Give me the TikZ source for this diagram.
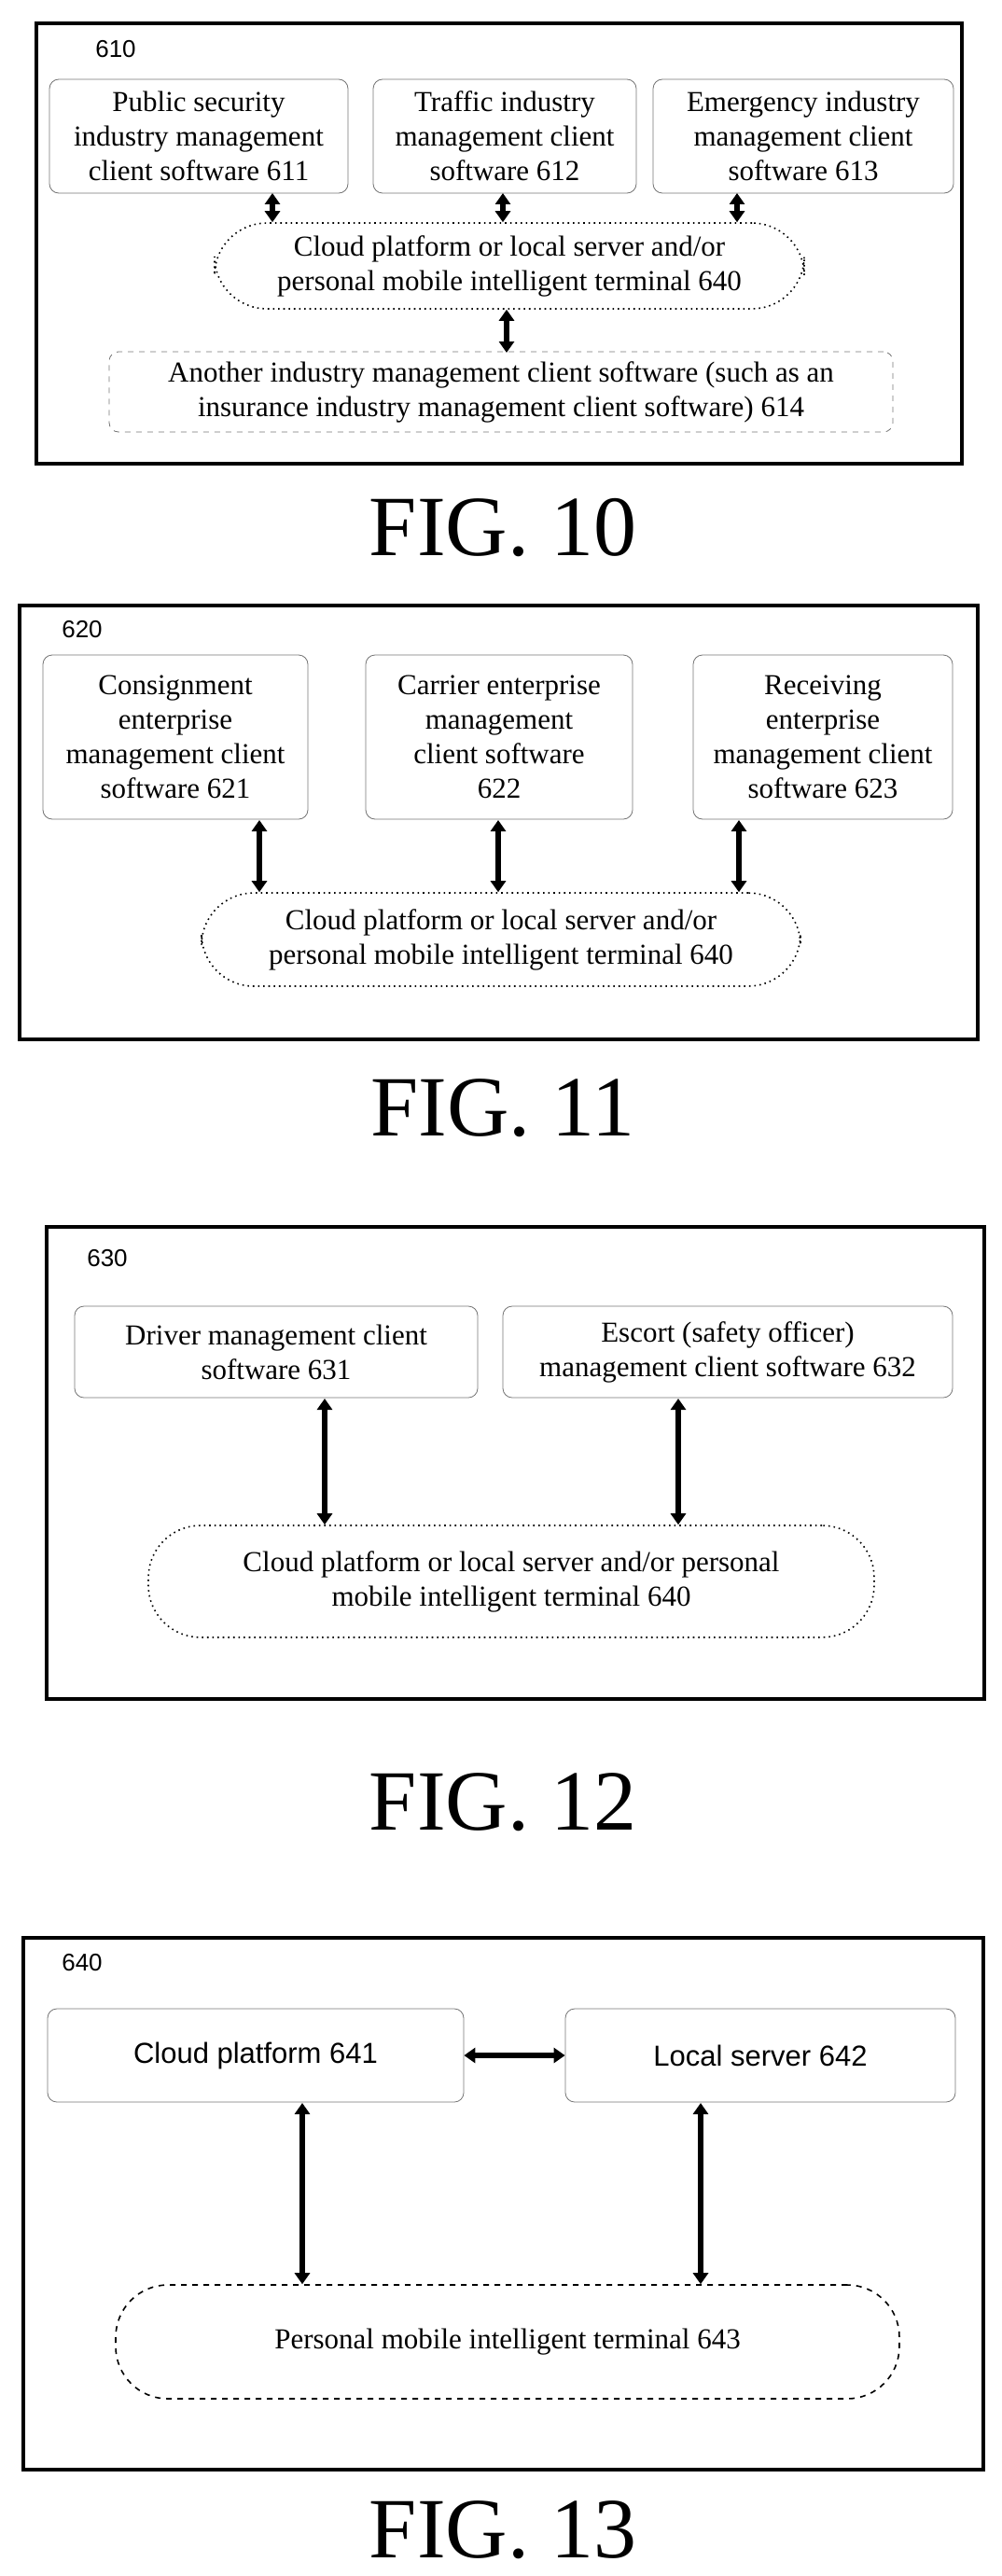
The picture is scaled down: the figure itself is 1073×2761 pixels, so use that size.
\documentclass[tikz,border=0pt]{standalone}
\usepackage{fontspec}
\setmainfont{Liberation Serif}
\newfontfamily\labelfont{Liberation Sans}
\usetikzlibrary{arrows.meta}
\tikzset{
  frame/.style = {draw, line width = 1.6pt},
  soft/.style = {draw = black!55, line width = 0.4pt, rounded corners = 5pt,
    align = center, inner sep = 2pt, font = \fontsize{15.5}{18.5}\selectfont},
  cloud/.style = {draw, dotted, line width = 0.8pt, rounded corners = 28pt,
    align = center, font = \fontsize{15.5}{18.5}\selectfont},
  link/.style = {{Triangle[width=8pt,length=6pt]}-{Triangle[width=8pt,length=6pt]},
    line width = 2.8pt},
  caption/.style = {font = \fontsize{46}{50}\selectfont},
  tag/.style = {font = \labelfont\fontsize{13}{15}\selectfont}
}
\begin{document}
\begin{tikzpicture}[x=0.5pt, y=-0.5pt]
  \useasboundingbox (0, 0) rectangle (1073, 2761);

  % fig. 10
  % -------
  \draw [frame] (39, 25) rectangle (1031, 497);
  \node [tag] (t610) at (124, 53) {610};
  \node [soft, minimum width = 160pt, minimum height = 61pt] (b611) at (213, 146)
    {Public security\\industry management\\client software 611};
  \node [soft, minimum width = 141pt, minimum height = 61pt] (b612) at (541, 146)
    {Traffic industry\\management client\\software 612};
  \node [soft, minimum width = 161pt, minimum height = 61pt] (b613) at (861, 146)
    {Emergency industry\\management client\\software 613};
  \node [cloud, minimum width = 316pt, minimum height = 46pt] (c10) at (546, 285)
    {Cloud platform or local server and/or\\personal mobile intelligent terminal 640};
  \node [soft, dashed, minimum width = 420pt, minimum height = 43pt] (b614) at (537, 420)
    {Another industry management client software (such as an\\insurance industry management client software) 614};
  \coordinate (p611) at (292, 207);
  \coordinate (p612) at (539, 207);
  \coordinate (p613) at (790, 207);
  \coordinate (p614) at (543, 378);
  \draw [link] (p611) -- (p611 |- c10.north);
  \draw [link] (p612) -- (p612 |- c10.north);
  \draw [link] (p613) -- (p613 |- c10.north);
  \draw [link] (c10.south -| p614) -- (p614);
  \node [caption] (f10) at (539, 566) {FIG. 10};

  % fig. 11
  % -------
  \draw [frame] (21, 649) rectangle (1048, 1114);
  \node [tag] (t620) at (88, 675) {620};
  \node [soft, minimum width = 142pt, minimum height = 88pt] (b621) at (188, 790)
    {Consignment\\enterprise\\management client\\software 621};
  \node [soft, minimum width = 143pt, minimum height = 88pt] (b622) at (535, 790)
    {Carrier enterprise\\management\\client software\\622};
  \node [soft, minimum width = 139pt, minimum height = 88pt] (b623) at (882, 790)
    {Receiving\\enterprise\\management client\\software 623};
  \node [cloud, minimum width = 321pt, minimum height = 50pt] (c11) at (537, 1007)
    {Cloud platform or local server and/or\\personal mobile intelligent terminal 640};
  \coordinate (p621) at (278, 879);
  \coordinate (p622) at (534, 879);
  \coordinate (p623) at (792, 879);
  \draw [link] (p621) -- (p621 |- c11.north);
  \draw [link] (p622) -- (p622 |- c11.north);
  \draw [link] (p623) -- (p623 |- c11.north);
  \node [caption] (f11) at (539, 1188) {FIG. 11};

  % fig. 12
  % -------
  \draw [frame] (50, 1315) rectangle (1055, 1821);
  \node [tag] (t630) at (115, 1349) {630};
  \node [soft, minimum width = 216pt, minimum height = 49pt] (b631) at (296, 1449)
    {Driver management client\\software 631};
  \node [soft, minimum width = 241pt, minimum height = 49pt] (b632) at (780, 1449)
    {Escort (safety officer)\\management client software 632};
  \node [cloud, minimum width = 389pt, minimum height = 60pt] (c12) at (548, 1695)
    {Cloud platform or local server and/or personal\\mobile intelligent terminal 640};
  \coordinate (p631) at (348, 1499);
  \coordinate (p632) at (727, 1499);
  \draw [link] (p631) -- (p631 |- c12.north);
  \draw [link] (p632) -- (p632 |- c12.north);
  \node [caption] (f12) at (539, 1932) {FIG. 12};

  % fig. 13
  % -------
  \draw [frame] (25, 2077) rectangle (1054, 2647);
  \node [tag] (t640) at (88, 2104) {640};
  \node [soft, font = \labelfont\fontsize{15.5}{18.5}\selectfont,
    minimum width = 223pt, minimum height = 50pt] (b641) at (274, 2203) {Cloud platform 641};
  \node [soft, font = \labelfont\fontsize{15.5}{18.5}\selectfont,
    minimum width = 209pt, minimum height = 50pt] (b642) at (815, 2203) {Local server 642};
  \node [cloud, dashed, minimum width = 420pt, minimum height = 61pt] (c13) at (544, 2510)
    {Personal mobile intelligent terminal 643};
  \coordinate (p641) at (324, 2254);
  \coordinate (p642) at (751, 2254);
  \draw [link] (b641) -- (b642);
  \draw [link] (p641) -- (p641 |- c13.north);
  \draw [link] (p642) -- (p642 |- c13.north);
  \node [caption] (f13) at (539, 2712) {FIG. 13};
\end{tikzpicture}
\end{document}
